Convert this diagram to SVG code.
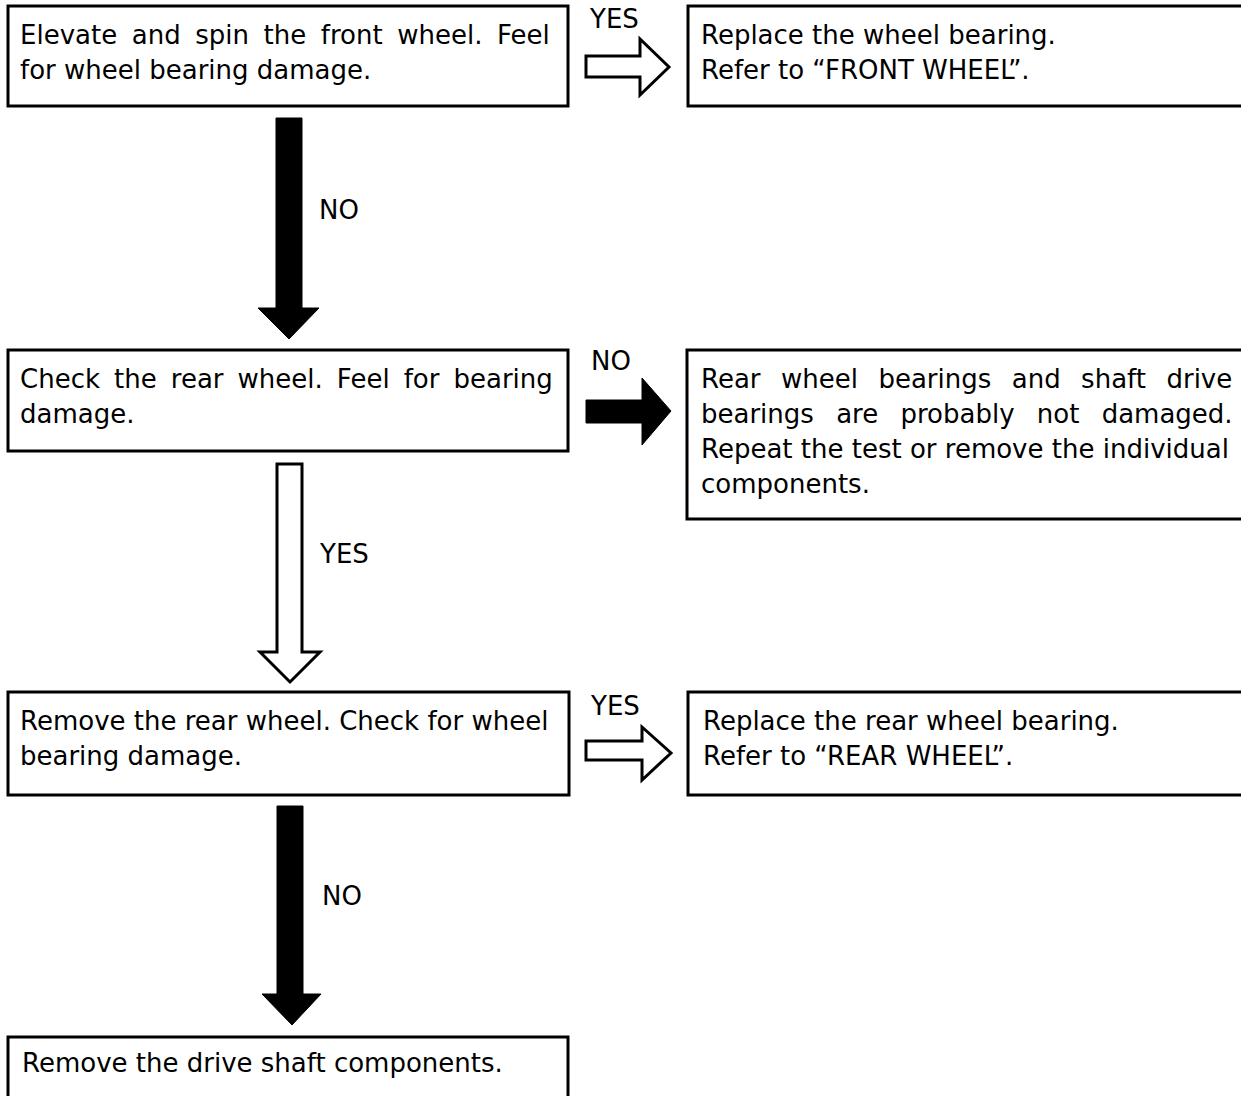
<svg xmlns="http://www.w3.org/2000/svg" width="1241" height="1096" viewBox="0 0 1241 1096">
<style>
.box{fill:#fff;stroke:#000;stroke-width:3}
.t{font-family:"DejaVu Sans",sans-serif;font-size:26px;fill:#000}
.lbl{font-family:"DejaVu Sans",sans-serif;font-size:26px;fill:#000}
.solid{fill:#000;stroke:#000;stroke-width:1}
.hollow{fill:#fff;stroke:#000;stroke-width:3;stroke-linejoin:miter}
</style>
<rect width="1241" height="1096" fill="#fff"/>
<g id="connectors">
  <path class="solid" d="M276,118 H302 V308 H319 L289,339 L258,308 H276 Z"/>
  <text class="lbl" x="319" y="219">NO</text>
  <path class="hollow" d="M586,56 H640 V39 L669,67 L640,95 V77 H586 Z"/>
  <text class="lbl" x="590" y="28">YES</text>
  <path class="solid" d="M586,400 H642 V378 L671,411 L642,445 V423 H586 Z"/>
  <text class="lbl" x="591" y="370">NO</text>
  <path class="hollow" d="M277,464 H302 V652 H320 L290,682 L260,652 H277 Z"/>
  <text class="lbl" x="320" y="563">YES</text>
  <path class="hollow" d="M586,741 H642 V727 L671,753 L642,780 V760 H586 Z"/>
  <text class="lbl" x="591" y="715">YES</text>
  <path class="solid" d="M277,806 H303 V994 H321 L292,1025 L262,994 H277 Z"/>
  <text class="lbl" x="322" y="905">NO</text>
</g>
<g id="n1">
  <rect class="box" x="8" y="6" width="560" height="100"/>
  <text class="t" x="20" y="44" word-spacing="6.3">Elevate and spin the front wheel. Feel</text>
  <text class="t" x="20" y="79">for wheel bearing damage.</text>
</g>
<g id="n2">
  <rect class="box" x="688" y="6" width="600" height="100"/>
  <text class="t" x="701" y="44">Replace the wheel bearing.</text>
  <text class="t" x="701" y="79">Refer to “FRONT WHEEL”.</text>
</g>
<g id="n3">
  <rect class="box" x="8" y="350" width="560" height="101"/>
  <text class="t" x="20" y="388" word-spacing="5.8">Check the rear wheel. Feel for bearing</text>
  <text class="t" x="20" y="423">damage.</text>
</g>
<g id="n4">
  <rect class="box" x="687" y="350" width="600" height="169"/>
  <text class="t" x="701" y="388" word-spacing="12.2">Rear wheel bearings and shaft drive</text>
  <text class="t" x="701" y="423" word-spacing="14">bearings are probably not damaged.</text>
  <text class="t" x="701" y="458">Repeat the test or remove the individual</text>
  <text class="t" x="701" y="493">components.</text>
</g>
<g id="n5">
  <rect class="box" x="8" y="692" width="561" height="103"/>
  <text class="t" x="20" y="730">Remove the rear wheel. Check for wheel</text>
  <text class="t" x="20" y="765">bearing damage.</text>
</g>
<g id="n6">
  <rect class="box" x="688" y="692" width="600" height="103"/>
  <text class="t" x="703" y="730">Replace the rear wheel bearing.</text>
  <text class="t" x="703" y="765">Refer to “REAR WHEEL”.</text>
</g>
<g id="n7">
  <rect class="box" x="8" y="1037" width="560" height="80"/>
  <text class="t" x="22" y="1072">Remove the drive shaft components.</text>
</g>
</svg>
